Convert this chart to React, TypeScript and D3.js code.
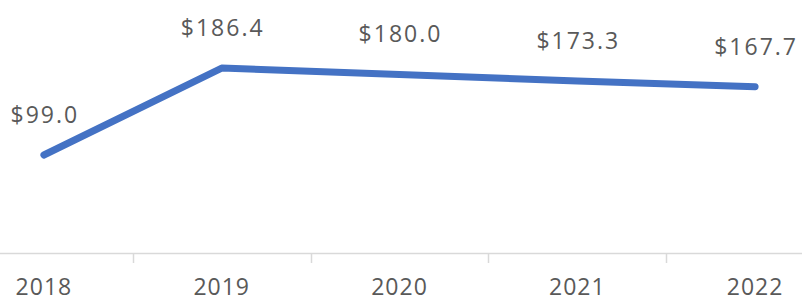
import React, { useEffect, useRef } from 'react';
import { select, scaleBand, scaleLinear, line } from 'd3';

const years = ['2018', '2019', '2020', '2021', '2022'];
const values = [99.0, 186.4, 180.0, 173.3, 167.7];
const valueLabels = ['$99.0', '$186.4', '$180.0', '$173.3', '$167.7'];

const W = 802;
const H = 303;

const LineChart = () => {
  const svgRef = useRef(null);

  useEffect(() => {
    const svg = select(svgRef.current);
    svg.selectAll('*').remove();

    // band scale wider than the view: the chart is cropped on both sides
    const x = scaleBand().domain(years).range([-45, 844]);
    const y = scaleLinear().domain([0, 200]).range([253.5, 54.5]);
    const cx = (d: string) => (x(d) as number) + x.bandwidth() / 2;

    // baseline axis
    svg
      .append('line')
      .attr('x1', 0)
      .attr('x2', W)
      .attr('y1', 253.5)
      .attr('y2', 253.5)
      .attr('stroke', '#d9d9d9')
      .attr('stroke-width', 1.5);

    // tick marks between categories
    years.slice(1).forEach((yr) => {
      const tx = Math.round(x(yr) as number) + 0.5;
      svg
        .append('line')
        .attr('x1', tx)
        .attr('x2', tx)
        .attr('y1', 253.5)
        .attr('y2', 263)
        .attr('stroke', '#d9d9d9')
        .attr('stroke-width', 1.5);
    });

    // year labels
    svg
      .selectAll('text.year')
      .data(years)
      .enter()
      .append('text')
      .attr('class', 'year')
      .attr('x', (d) => cx(d))
      .attr('y', 295)
      .attr('text-anchor', 'middle')
      .attr('font-family', '"Open Sans", sans-serif')
      .attr('font-size', 23)
      .attr('letter-spacing', 1)
      .attr('fill', '#595959')
      .text((d) => d);

    // the series line
    const path = line<number>()
      .x((_, i) => cx(years[i]))
      .y((d) => y(d));

    svg
      .append('path')
      .datum(values)
      .attr('d', path)
      .attr('fill', 'none')
      .attr('stroke', '#4472c4')
      .attr('stroke-width', 7)
      .attr('stroke-linecap', 'round')
      .attr('stroke-linejoin', 'round');

    // data labels above each point
    svg
      .selectAll('text.val')
      .data(values)
      .enter()
      .append('text')
      .attr('class', 'val')
      .attr('x', (_, i) => cx(years[i]) + 1)
      .attr('y', (d) => y(d) - 32)
      .attr('text-anchor', 'middle')
      .attr('font-family', '"Open Sans", sans-serif')
      .attr('font-size', 23)
      .attr('letter-spacing', 2)
      .attr('fill', '#595959')
      .text((_, i) => valueLabels[i]);
  }, []);

  return <svg ref={svgRef} width={W} height={H} style={{ display: 'block' }}></svg>;
};

export default function App() {
  return (
    <div style={{ position: 'absolute', left: 0, top: 0, background: '#fff' }}>
      <LineChart />
    </div>
  );
}
